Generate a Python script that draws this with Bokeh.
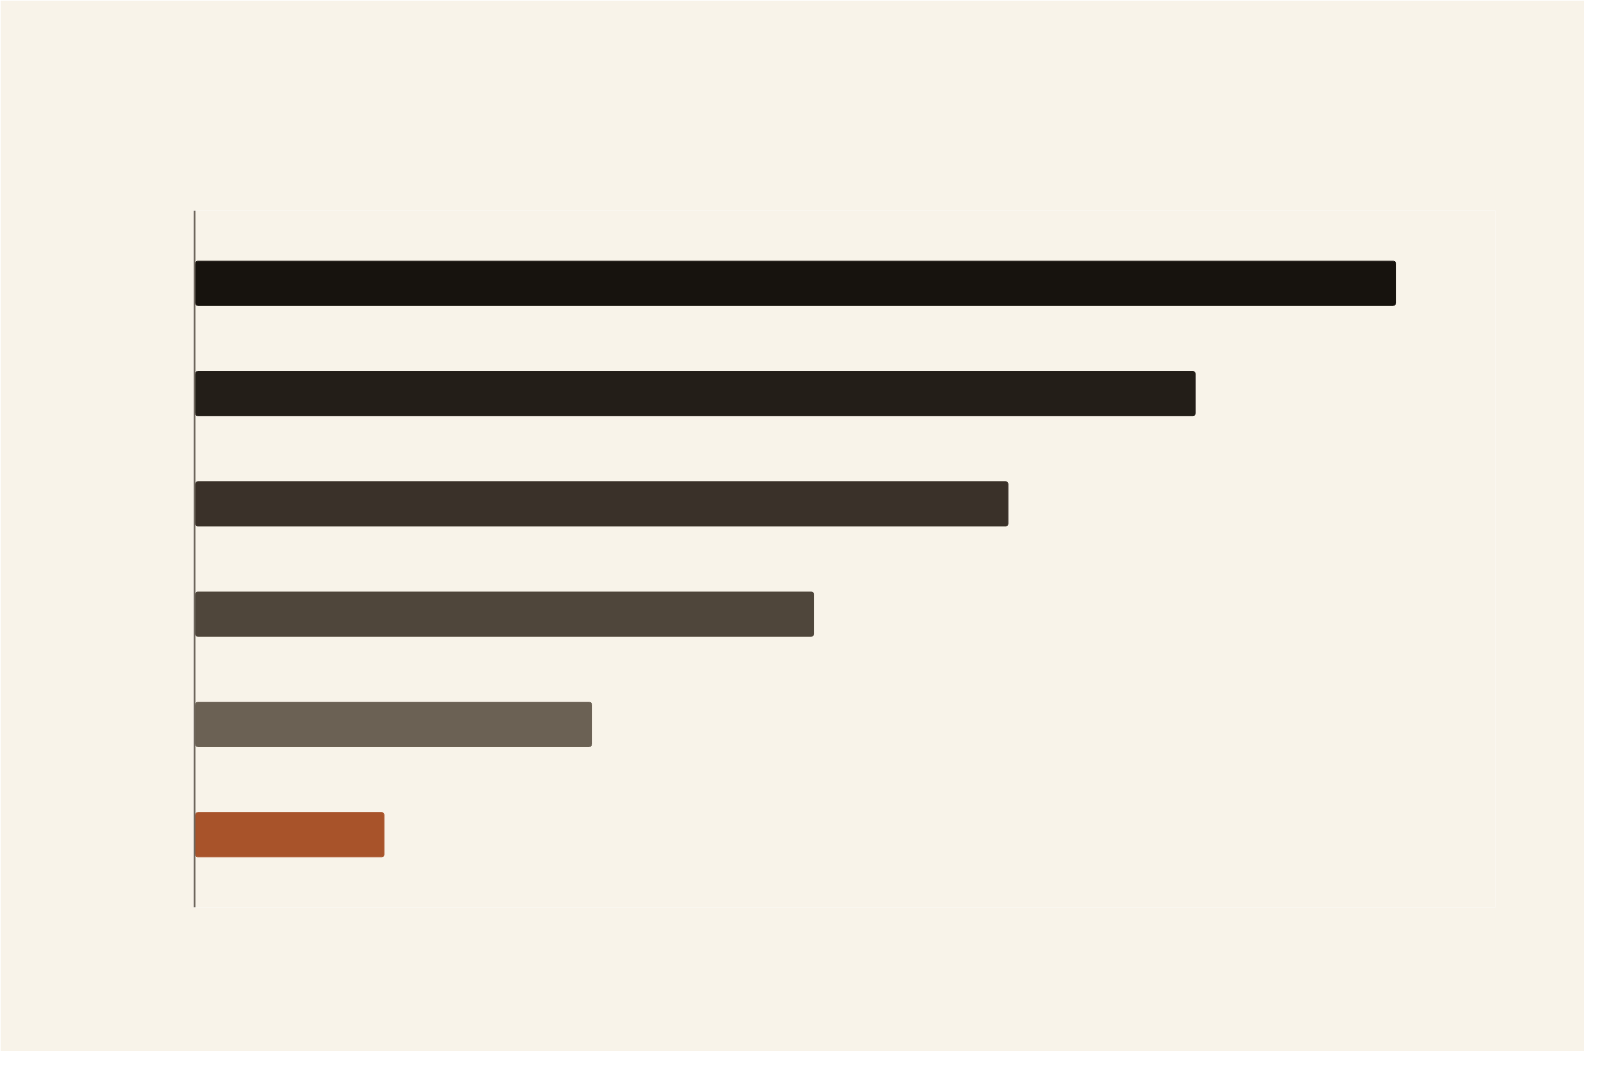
from bokeh.plotting import figure
from bokeh.models import Range1d, Span, ColumnDataSource
from bokeh.embed import file_html
from bokeh.resources import INLINE

# Data (no labels are shown in the reference)
ranks = [6, 5, 4, 3, 2, 1]
values = [100, 83.3, 67.7, 51.5, 33.0, 15.7]
colors = ["#17130e", "#231e18", "#3a3129", "#4f463b", "#6b6154", "#a8532a"]

BG = "#f8f3e9"

src = ColumnDataSource(dict(y=ranks, v=values, c=colors))

p = figure(width=1584, height=1051, output_backend="svg", toolbar_location=None,
           x_range=Range1d(-0.17, 108.33), y_range=Range1d(0.34, 6.66),
           x_axis_location=None, y_axis_location=None,
           min_border_left=193, min_border_right=89,
           min_border_top=210, min_border_bottom=144)
p.background_fill_color = BG
p.border_fill_color = BG
p.outline_line_color = None
p.grid.visible = False

p.hbar(y="y", left=0, right="v", height=0.40, fill_color="c", line_color="c",
       line_width=1, border_radius=2, source=src)

p.add_layout(Span(location=-0.09, dimension="height", line_color="#6e665c", line_width=2))

open("out.html", "w").write(file_html(p, INLINE))
